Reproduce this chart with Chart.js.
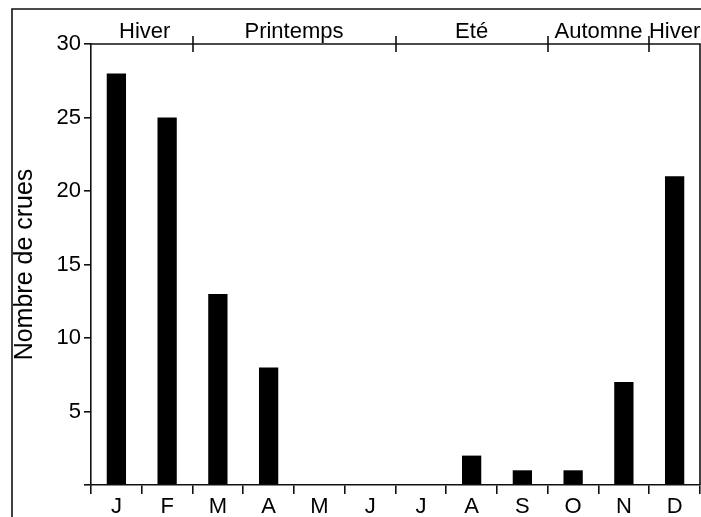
<!DOCTYPE html>
<html>
<head>
<meta charset="utf-8">
<script src="https://cdn.jsdelivr.net/npm/chart.js@4"></script>
<style>
  html, body { margin: 0; padding: 0; background: #fff; }
  #wrap { width: 701px; height: 517px; position: relative; }
</style>
</head>
<body>
<div id="wrap"><canvas id="graphe"></canvas></div>
<script>
// Données
const mois = ['J', 'F', 'M', 'A', 'M', 'J', 'J', 'A', 'S', 'O', 'N', 'D'];
const crues = [28, 25, 13, 8, 0, 0, 0, 2, 1, 1, 7, 21];
const yTicks = [0, 5, 10, 15, 20, 25, 30];
// Saisons (indices des mois de début et de fin)
const saisons = ['Hiver', 'Printemps', 'Eté', 'Automne', 'Hiver'];
const saisonDebut = [0, 2, 6, 9, 11];
const saisonFin = [1, 5, 8, 10, 11];

const police = '"Liberation Sans", Arial, Helvetica, sans-serif';
const trait = '#111';

// Cadre + axe des saisons en haut
const saisonsPlugin = {
    id: 'saisons',
    afterDraw(chart) {
        const ctx = chart.ctx;
        const x = chart.scales.x;
        const area = chart.chartArea;
        const demi = (x.getPixelForValue(1) - x.getPixelForValue(0)) / 2;
        ctx.save();
        ctx.strokeStyle = trait;
        ctx.lineWidth = 1.6;

        // cadre extérieur
        ctx.beginPath();
        ctx.moveTo(12, chart.height + 5);
        ctx.lineTo(12, 9);
        ctx.lineTo(chart.width + 5, 9);
        ctx.stroke();

        // ligne du haut et bord droit
        ctx.beginPath();
        ctx.moveTo(area.left, area.top);
        ctx.lineTo(area.right, area.top);
        ctx.lineTo(area.right, area.bottom);
        ctx.stroke();

        // séparations des saisons
        ctx.beginPath();
        for (let i = 1; i < saisons.length; i++) {
            const bx = Math.round(x.getPixelForValue(saisonDebut[i]) - demi);
            ctx.moveTo(bx, area.top - 8);
            ctx.lineTo(bx, area.top + 8);
        }
        ctx.stroke();

        // noms des saisons
        ctx.fillStyle = '#000';
        ctx.font = '22px ' + police;
        ctx.textAlign = 'center';
        ctx.textBaseline = 'middle';
        saisons.forEach((s, i) => {
            const cx = (x.getPixelForValue(saisonDebut[i]) + x.getPixelForValue(saisonFin[i])) / 2;
            ctx.fillText(s, cx + (i === 0 ? 3 : 0), 32);
        });
        ctx.restore();
    }
};

new Chart(document.getElementById('graphe'), {
    type: 'bar',
    data: {
        labels: mois,
        datasets: [{
            label: 'Nombre de crues',
            data: crues,
            backgroundColor: '#000',
            borderWidth: 0,
            categoryPercentage: 1,
            barPercentage: 0.38
        }]
    },
    options: {
        responsive: true,
        maintainAspectRatio: false,
        animation: false,
        layout: { padding: { top: 44, right: 1, left: 0, bottom: 0 } },
        plugins: {
            legend: { display: false },
            tooltip: { enabled: false }
        },
        scales: {
            x: {
                afterFit(s) { s.height = 32; },
                ticks: {
                    color: '#000',
                    font: { family: police, size: 22 },
                    padding: 0,
                    maxRotation: 0,
                    autoSkip: false
                },
                grid: { offset: true, drawOnChartArea: false, tickLength: 9, color: trait, lineWidth: 1.6 },
                border: { color: trait, width: 1.6 }
            },
            y: {
                min: 0,
                max: 30,
                afterFit(s) { s.width = 91; },
                afterBuildTicks(s) { s.ticks = yTicks.map(v => ({ value: v })); },
                ticks: {
                    color: '#000',
                    font: { family: police, size: 22 },
                    padding: 3,
                    callback: v => (v === 0 ? '' : v)
                },
                grid: { drawOnChartArea: false, tickLength: 7, color: trait, lineWidth: 1.6 },
                border: { color: trait, width: 1.6 },
                title: {
                    display: true,
                    text: 'Nombre de crues',
                    color: '#000',
                    font: { family: police, size: 25 },
                    padding: { top: 10, bottom: 0 }
                }
            }
        }
    },
    plugins: [saisonsPlugin]
});
</script>
</body>
</html>
